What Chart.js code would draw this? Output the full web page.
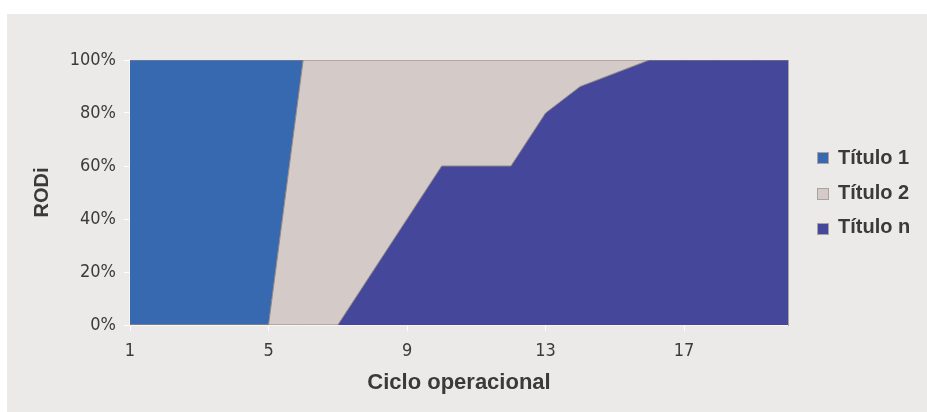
<!DOCTYPE html>
<html>
<head>
<meta charset="utf-8">
<script src="https://cdn.jsdelivr.net/npm/chart.js@4/dist/chart.umd.min.js"></script>
<style>
    body { margin: 0; background: #ffffff; }
    #wrap { position: relative; width: 927px; height: 412px; overflow: hidden; }
    #panel { position: absolute; left: 7px; top: 14px; right: 0; bottom: 0; background: #ebeae8; }
    canvas { position: absolute; left: 0; top: 0; }
    .leg { position: absolute; left: 838px; font: bold 20px "Liberation Sans", Arial, sans-serif; color: #3a3a3a; line-height: 24px; white-space: nowrap; }
    .box { position: absolute; left: 817px; width: 10px; height: 10px; border: 1px solid #a9a29e; }
</style>
</head>
<body>
<div id="wrap">
    <div id="panel"></div>
    <canvas id="chart" width="927" height="412"></canvas>
</div>
<script>
// ciclo operacional (eixo x)
const cycles = [1, 2, 3, 4, 5, 6, 7, 8, 9, 10, 11, 12, 13, 14, 15, 16, 17, 18, 19, 20]
const xTicks = [1, 5, 9, 13, 17]
const yTicks = [0, 20, 40, 60, 80, 100]

// RODi (%) por série
const titulo1 = [100, 100, 100, 100, 100, 0, 0, 0, 0, 0, 0, 0, 0, 0, 0, 0, 0, 0, 0, 0]
const titulo2 = [0, 0, 0, 0, 0, 100, 100, 80, 60, 40, 40, 40, 20, 10, 5, 0, 0, 0, 0, 0]
const tituloN = [0, 0, 0, 0, 0, 0, 0, 20, 40, 60, 60, 60, 80, 90, 95, 100, 100, 100, 100, 100]

const seriesNames = ['Título 1', 'Título 2', 'Título n']
const seriesColors = ['#3769b1', '#d4cbc8', '#45489a']

function toPoints(arr) {
    return cycles.map((c, i) => ({ x : c, y : arr[i] }))
}

// pilha: Título n em baixo, Título 1 em cima
const stackOrder = [
    { name : seriesNames[2], data : tituloN, color : seriesColors[2] },
    { name : seriesNames[1], data : titulo2, color : seriesColors[1] },
    { name : seriesNames[0], data : titulo1, color : seriesColors[0] }
]

const datasets = stackOrder.map((s, i) => ({
    label: s.name,
    data: toPoints(s.data),
    backgroundColor: s.color,
    borderColor: '#8f8781',
    borderWidth: 1,
    pointRadius: 0,
    tension: 0,
    fill: i === 0 ? 'origin' : '-1'
}))

const tickFont = { family: '"DejaVu Sans Condensed", "DejaVu Sans", sans-serif', size: 18 }
const titleFont = { family: '"Liberation Sans", Arial, sans-serif', weight: 'bold' }

const ctx = document.getElementById('chart').getContext('2d')
new Chart(ctx, {
    type: 'line',
    data: { datasets: datasets },
    options: {
        responsive: false,
        animation: false,
        layout: { padding: { left: 26, top: 60, right: 139, bottom: 12 } },
        plugins: { legend: { display: false }, tooltip: { enabled: false } },
        scales: {
            x: {
                type: 'linear',
                min: 1,
                max: 20,
                afterBuildTicks: axis => { axis.ticks = xTicks.map(v => ({ value : v })) },
                afterFit: axis => { axis.height = 75 },
                ticks: { font: tickFont, color: '#3b3b3b', padding: 10, maxRotation: 0 },
                grid: { drawOnChartArea: false, color: '#ffffff', tickLength: 6 },
                border: { color: '#f7f6f5', width: 2 },
                title: { display: true, text: 'Ciclo operacional', color: '#3a3a3a', font: { ...titleFont, size: 22 } }
            },
            y: {
                stacked: true,
                min: 0,
                max: 100,
                afterBuildTicks: axis => { axis.ticks = yTicks.map(v => ({ value : v })) },
                afterFit: axis => { axis.width = 104 },
                ticks: { font: tickFont, color: '#3b3b3b', padding: 8, callback: v => v + '%' },
                grid: { drawOnChartArea: false, color: '#ffffff', tickLength: 6 },
                border: { color: '#f7f6f5', width: 2 },
                title: { display: true, text: 'RODi', color: '#3a3a3a', font: { ...titleFont, size: 20 } }
            },
            yRight: {
                position: 'right',
                min: 0,
                max: 100,
                afterFit: axis => { axis.width = 0 },
                ticks: { display: false },
                grid: { drawOnChartArea: false, drawTicks: false },
                border: { color: '#aaa39f', width: 1 }
            }
        }
    }
})

// legenda (mesma ordem da imagem)
const legendTops = [145, 180, 214]
const legendBoxTops = [152, 188, 223]
const wrap = document.getElementById('wrap')
seriesNames.forEach((name, i) => {
    const box = document.createElement('div')
    box.className = 'box'
    box.style.top = legendBoxTops[i] + 'px'
    box.style.background = seriesColors[i]
    wrap.appendChild(box)
    const txt = document.createElement('div')
    txt.className = 'leg'
    txt.style.top = legendTops[i] + 'px'
    txt.textContent = name
    wrap.appendChild(txt)
})
</script>
</body>
</html>
